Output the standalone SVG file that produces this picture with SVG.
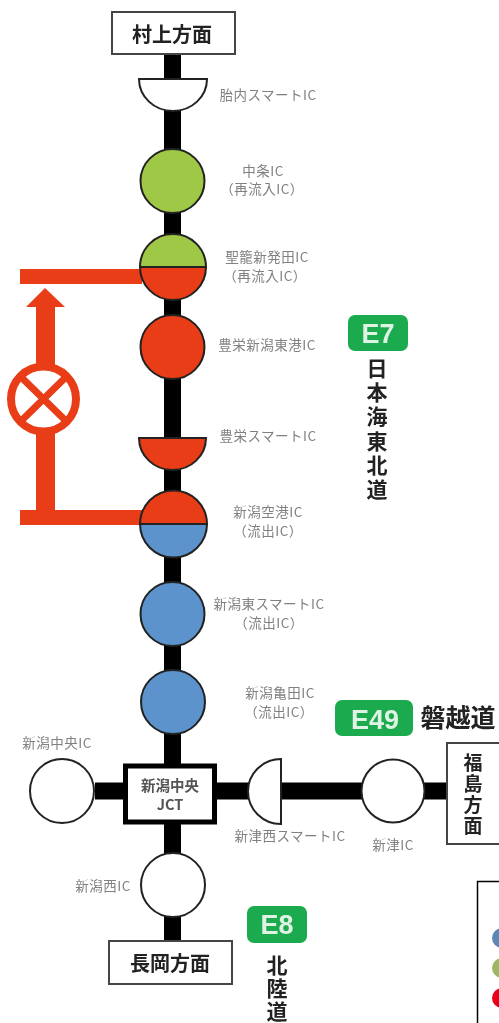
<svg xmlns="http://www.w3.org/2000/svg" width="499" height="1023" viewBox="0 0 499 1023">
<style>
text{font-family:"Noto Sans CJK JP","Noto Sans",sans-serif;text-anchor:middle}
.l{font-size:13.5px;letter-spacing:.5px;fill:#808080}
.j{font-size:14.5px;font-weight:700;fill:#555}
.h{font-size:20px;font-weight:700;fill:#222}
.v{font-size:19px;font-weight:700;fill:#222}
.r{font-size:21px;font-weight:700;fill:#222}
.t{font-size:25px;font-weight:700;fill:#222}
.b{font-family:"Liberation Sans",sans-serif;font-size:27px;font-weight:700;fill:#dff3e4}
.n{stroke:#222;stroke-width:2}
.box{fill:#fff;stroke:#444;stroke-width:2}
.g{fill:#9fc846}.o{fill:#e83c16}.u{fill:#5b93cd}.w{fill:#fff}
.badge{fill:#1eaa4f}
.line{stroke:#000;stroke-width:17;fill:none}
</style>
<defs><filter id="soft" x="-2%" y="-2%" width="104%" height="104%"><feGaussianBlur stdDeviation="0.6"/></filter></defs>
<g filter="url(#soft)">
<rect width="499" height="1023" fill="#fff"/>
<g id="connectors">
<path class="line" d="M172.500 54V941M95 791H446"/>
<g fill="#e83c16">
<rect x="20" y="269" width="122" height="15"/>
<rect x="20" y="510" width="122" height="15"/>
<path d="M36 510V307H26L45 288L65 307H55V510Z"/>
</g>
</g>
<g id="no-entry"><circle cx="43.500" cy="399" r="32.500" fill="#fff" stroke="#e83c16" stroke-width="8"/><path d="M20 376L67 422M67 376L20 422" stroke="#e83c16" stroke-width="7"/></g>
<g id="box-murakami"><rect class="box" x="112" y="12" width="123" height="42"/><text class="h" x="172" y="42">村上方面</text></g>
<g id="ic-tainai"><path class="n w" d="M139 79H207A34 32 0 0 1 139 79Z"/><text class="l" x="268" y="100">胎内スマートIC</text></g>
<g id="ic-nakajo"><circle class="n g" cx="172.500" cy="181" r="32"/><text class="l" x="263" y="176">中条IC</text><text class="l" x="262" y="194">（再流入IC）</text></g>
<g id="ic-seiro"><path class="n g" d="M140 267A33 33 0 0 1 206 267Z"/><path class="n o" d="M140 267A33 33 0 0 0 206 267Z"/><text class="l" x="267" y="262">聖籠新発田IC</text><text class="l" x="265" y="281">（再流入IC）</text></g>
<g id="ic-toyosaka-niigatahigashi"><circle class="n o" cx="172.500" cy="347" r="32"/><text class="l" x="267" y="350">豊栄新潟東港IC</text></g>
<g id="ic-toyosaka-smart"><path class="n o" d="M139 438H206A33.500 32 0 0 1 139 438Z"/><text class="l" x="268" y="441">豊栄スマートIC</text></g>
<g id="ic-kuko"><path class="n o" d="M140 524A33 33 0 0 1 207 524Z"/><path class="n u" d="M140 524A33 33 0 0 0 207 524Z"/><text class="l" x="268" y="517">新潟空港IC</text><text class="l" x="268" y="536">（流出IC）</text></g>
<g id="ic-higashi-smart"><circle class="n u" cx="172.500" cy="614" r="32"/><text class="l" x="269" y="609">新潟東スマートIC</text><text class="l" x="269" y="628">（流出IC）</text></g>
<g id="ic-kameda"><circle class="n u" cx="173" cy="702" r="32"/><text class="l" x="280" y="698">新潟亀田IC</text><text class="l" x="279" y="717">（流出IC）</text></g>
<g id="ic-chuo"><circle class="n w" cx="62" cy="791" r="32"/><text class="l" x="57" y="748">新潟中央IC</text></g>
<g id="jct"><rect x="125.500" y="766" width="89" height="56" fill="#fff" stroke="#000" stroke-width="5"/><text class="j" x="170" y="791">新潟中央</text><text class="j" x="170" y="810">JCT</text></g>
<g id="ic-niitsu-nishi"><path class="n w" d="M281 759V824A33 32.500 0 0 1 281 759Z"/><text class="l" x="290" y="841">新津西スマートIC</text></g>
<g id="ic-niitsu"><circle class="n w" cx="393" cy="791" r="31.500"/><text class="l" x="393" y="850">新津IC</text></g>
<g id="ic-nishi"><circle class="n w" cx="173" cy="885" r="32"/><text class="l" x="103" y="891">新潟西IC</text></g>
<g id="box-fukushima"><rect class="box" x="447" y="743" width="54" height="101"/><text class="v" x="473" y="770">福</text><text class="v" x="473" y="791">島</text><text class="v" x="473" y="812">方</text><text class="v" x="473" y="833">面</text></g>
<g id="box-nagaoka"><rect class="box" x="109" y="941" width="123" height="43"/><text class="h" x="170" y="971">長岡方面</text></g>
<g id="route-e7"><rect class="badge" x="348" y="315" width="60" height="36" rx="7"/><text class="b" x="378" y="343">E7</text><text class="r" x="377" y="376">日</text><text class="r" x="377" y="400">本</text><text class="r" x="377" y="424">海</text><text class="r" x="377" y="449">東</text><text class="r" x="377" y="473">北</text><text class="r" x="377" y="497">道</text></g>
<g id="route-e49"><rect class="badge" x="335" y="700" width="78" height="36" rx="7"/><text class="b" x="375" y="729">E49</text><text class="t" x="458" y="727">磐越道</text></g>
<g id="route-e8"><rect class="badge" x="247" y="906" width="60" height="37" rx="7"/><text class="b" x="277" y="934">E8</text><text class="r" x="277" y="973">北</text><text class="r" x="277" y="996">陸</text><text class="r" x="277" y="1019">道</text></g>
<g id="legend"><rect x="477.500" y="881.500" width="40" height="160" fill="#fff" stroke="#000" stroke-width="1.500"/><circle cx="502" cy="938" r="10" fill="#5b88b5"/><circle cx="502" cy="968" r="10" fill="#9ab765"/><circle cx="502" cy="998" r="10" fill="#e8001c"/></g>
</g>
</svg>
